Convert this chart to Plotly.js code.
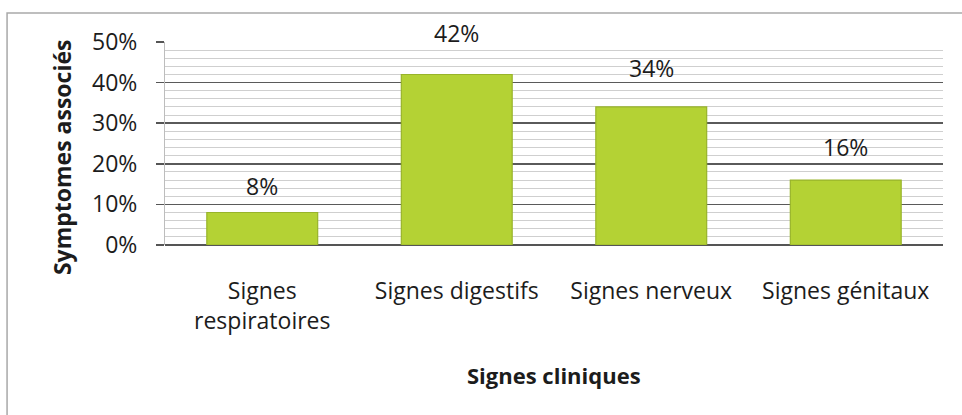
<!DOCTYPE html>
<html>
<head>
<meta charset="utf-8">
<script src="https://cdn.plot.ly/plotly-3.0.1.min.js"></script>
<style>
  html, body { margin: 0; padding: 0; background: #fff; }
  #chart { width: 962px; height: 415px; }
</style>
</head>
<body>
<div id="chart"></div>
<script>
// Signes cliniques et symptômes associés (part des cas)
const categories = ['Signes<br>respiratoires', 'Signes digestifs', 'Signes nerveux', 'Signes génitaux'];
const values = [0.08, 0.42, 0.34, 0.16];
const tickValues = [0, 0.1, 0.2, 0.3, 0.4, 0.5];
const tickLabels = ['0%', '10%', '20%', '30%', '40%', '50%'];
const xTitle = 'Signes cliniques';
const yTitle = 'Symptomes associés';
// vertical offset (px) of each value label above its bar
const labelShift = [27, 41, 39, 33];

const FONT = '"Open Sans", "Noto Sans", sans-serif';
const TEXT = '#1c1c1c';

const trace = {
  type: 'bar',
  x: categories,
  y: values,
  marker: {
    color: '#b4d234',
    line: { color: '#98b42a', width: 1.2 }
  },
  hoverinfo: 'skip'
};

const valueLabels = values.map((v, i) => ({
  x: categories[i],
  y: v,
  xref: 'x',
  yref: 'y',
  text: Math.round(v * 100) + '%',
  showarrow: false,
  yshift: labelShift[i],
  font: { family: FONT, size: 23, color: TEXT }
}));

// axis titles, placed relative to the plot area
const axisTitles = [
  {
    text: xTitle, xref: 'paper', yref: 'paper', x: 0.5, y: -0.64,
    xanchor: 'center', yanchor: 'middle',
    showarrow: false,
    font: { family: FONT, size: 22, color: TEXT, weight: 'bold' }
  },
  {
    text: yTitle, xref: 'paper', yref: 'paper', x: -0.1324, y: 0.433,
    xanchor: 'center', yanchor: 'middle',
    textangle: -90, showarrow: false,
    font: { family: FONT, size: 23, color: TEXT, weight: 'bold' }
  }
];

const layout = {
  width: 962,
  height: 415,
  margin: { l: 165, r: 19, t: 42, b: 170 },
  paper_bgcolor: '#ffffff',
  plot_bgcolor: '#ffffff',
  showlegend: false,
  bargap: 0.43,
  font: { family: FONT, color: TEXT },
  xaxis: {
    type: 'category',
    showgrid: false,
    showline: false,
    zeroline: false,
    ticks: '',
    tickfont: { family: FONT, size: 23, color: TEXT },
    ticklabelstandoff: 30
  },
  yaxis: {
    range: [0, 0.5],
    tickvals: tickValues,
    ticktext: tickLabels,
    tickfont: { family: FONT, size: 23, color: TEXT },
    ticks: 'outside',
    ticklen: 8,
    tickwidth: 1.5,
    tickcolor: '#555',
    ticklabelstandoff: 14,
    showgrid: true,
    gridcolor: '#5a5a5a',
    gridwidth: 1.5,
    zeroline: true,
    zerolinecolor: '#555',
    zerolinewidth: 1.5,
    showline: true,
    linecolor: '#bdbdbd',
    linewidth: 1,
    minor: {
      dtick: 0.02,
      showgrid: true,
      gridcolor: '#cfcfcf',
      gridwidth: 1,
      ticks: ''
    }
  },
  annotations: valueLabels.concat(axisTitles),
  shapes: [
    // chart frame
    {
      type: 'rect', xref: 'paper', yref: 'paper',
      x0: -0.203, x1: 1.03, y0: -0.87, y1: 1.143,
      line: { color: '#a9a9a9', width: 1.5 },
      fillcolor: 'rgba(0,0,0,0)',
      layer: 'below'
    }
  ]
};

Plotly.newPlot('chart', [trace], layout, { staticPlot: true, displayModeBar: false });
</script>
</body>
</html>
